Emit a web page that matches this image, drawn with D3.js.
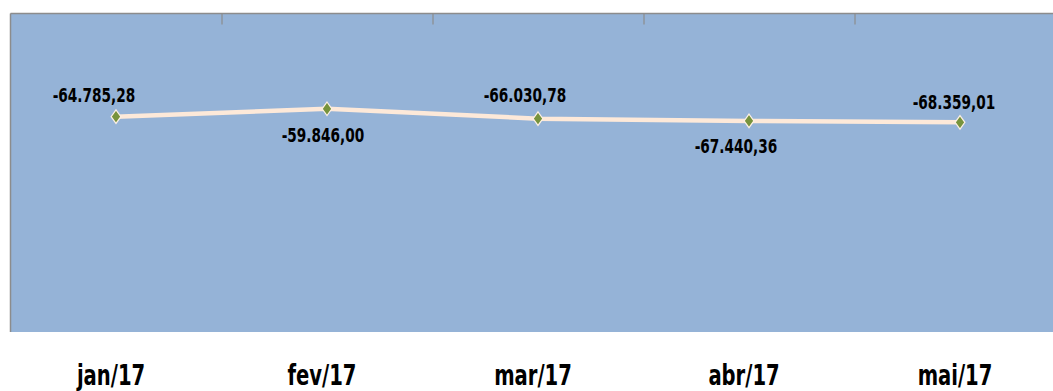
<!DOCTYPE html>
<html><head><meta charset="utf-8">
<script src="https://cdn.jsdelivr.net/npm/d3@7"></script>
<style>
html,body{margin:0;padding:0;background:#fff;overflow:hidden}
text{font-family:"DejaVu Sans Condensed","DejaVu Sans",sans-serif;font-stretch:condensed;font-weight:bold;fill:#000}
</style></head>
<body><svg id="chart" width="1053" height="391"></svg>
<script>
const categories = ["jan/17","fev/17","mar/17","abr/17","mai/17"];
const values = [-64785.28,-59846.00,-66030.78,-67440.36,-68359.01];
const valueLabels = ["-64.785,28","-59.846,00","-66.030,78","-67.440,36","-68.359,01"];
const yDomain = [-200000, 0];
// label placement tweaks (layout only)
const labelDx = [-22,-4,-13,-13,-6];
const labelDy = [-15,33,-17,32,-13];

(function(){
const svg = d3.select("#chart");
const W = 1053;
const pLeft = 10.5, pTop = 13.5, pBottom = 332, band = 211;
const x = d3.scaleBand().domain(categories).range([pLeft, pLeft + band*categories.length]).padding(0);
const y = d3.scaleLinear().domain(yDomain).range([pBottom, pTop]);

function squeeze(sel, f){
  sel.each(function(){
    const w = this.getComputedTextLength();
    d3.select(this).attr("lengthAdjust","spacingAndGlyphs").attr("textLength", w*f);
  });
}

svg.append("rect").attr("x", pLeft).attr("y", pTop)
  .attr("width", band*categories.length).attr("height", pBottom-pTop)
  .attr("fill", "#95b3d7");

svg.append("line").attr("x1", pLeft).attr("x2", pLeft).attr("y1", pTop).attr("y2", pBottom)
  .attr("stroke", "#8c8c8c").attr("stroke-width", 1.5);
const axisG = svg.append("g").attr("transform", `translate(0,${pTop})`);
axisG.append("line").attr("x1", pLeft).attr("x2", W).attr("y1", 0).attr("y2", 0)
  .attr("stroke", "#8c8c8c").attr("stroke-width", 1.5);
axisG.selectAll("line.tick").data(categories.slice(1)).enter().append("line")
  .attr("class","tick")
  .attr("x1", d => Math.round(x(d))).attr("x2", d => Math.round(x(d)))
  .attr("y1", 0).attr("y2", 11)
  .attr("stroke", "#8c8c8c").attr("stroke-width", 1.2);

const xAxis = d3.axisBottom(x).tickSize(0).tickPadding(0);
const xg = svg.append("g").attr("transform", `translate(-5,${pBottom})`).call(xAxis);
xg.select(".domain").remove();
xg.selectAll("text").attr("dy", null).attr("y", 53)
  .style("font-family", '"DejaVu Sans Condensed","DejaVu Sans",sans-serif')
  .style("font-weight", "bold").style("font-size", "29px").attr("fill", "#000")
  .call(squeeze, 0.75);

const data = categories.map((c,i) => ({c, v: values[i], label: valueLabels[i], dx: labelDx[i], dy: labelDy[i]}));
const cx = d => x(d.c) + x.bandwidth()/2;

svg.append("path").datum(data)
  .attr("d", d3.line().x(cx).y(d => y(d.v)))
  .attr("fill", "none").attr("stroke", "#fde9d9").attr("stroke-width", 4.5);

const tallDiamond = { draw(ctx, size){ const h = Math.sqrt(size)*0.8, w = h*0.72;
  ctx.moveTo(0,-h); ctx.lineTo(w,0); ctx.lineTo(0,h); ctx.lineTo(-w,0); ctx.closePath(); } };

svg.selectAll("path.mk").data(data).enter().append("path")
  .attr("class","mk")
  .attr("d", d3.symbol().type(tallDiamond).size(72))
  .attr("transform", d => `translate(${cx(d)},${y(d.v)})`)
  .attr("fill", "#77933c").attr("stroke", "#fdf0e4").attr("stroke-width", 1.2);

svg.selectAll("text.lbl").data(data).enter().append("text")
  .attr("class","lbl")
  .attr("x", d => cx(d) + d.dx).attr("y", d => y(d.v) + d.dy)
  .attr("text-anchor","middle").style("font-size","20px")
  .text(d => d.label)
  .call(squeeze, 0.76);
})();
</script></body></html>
